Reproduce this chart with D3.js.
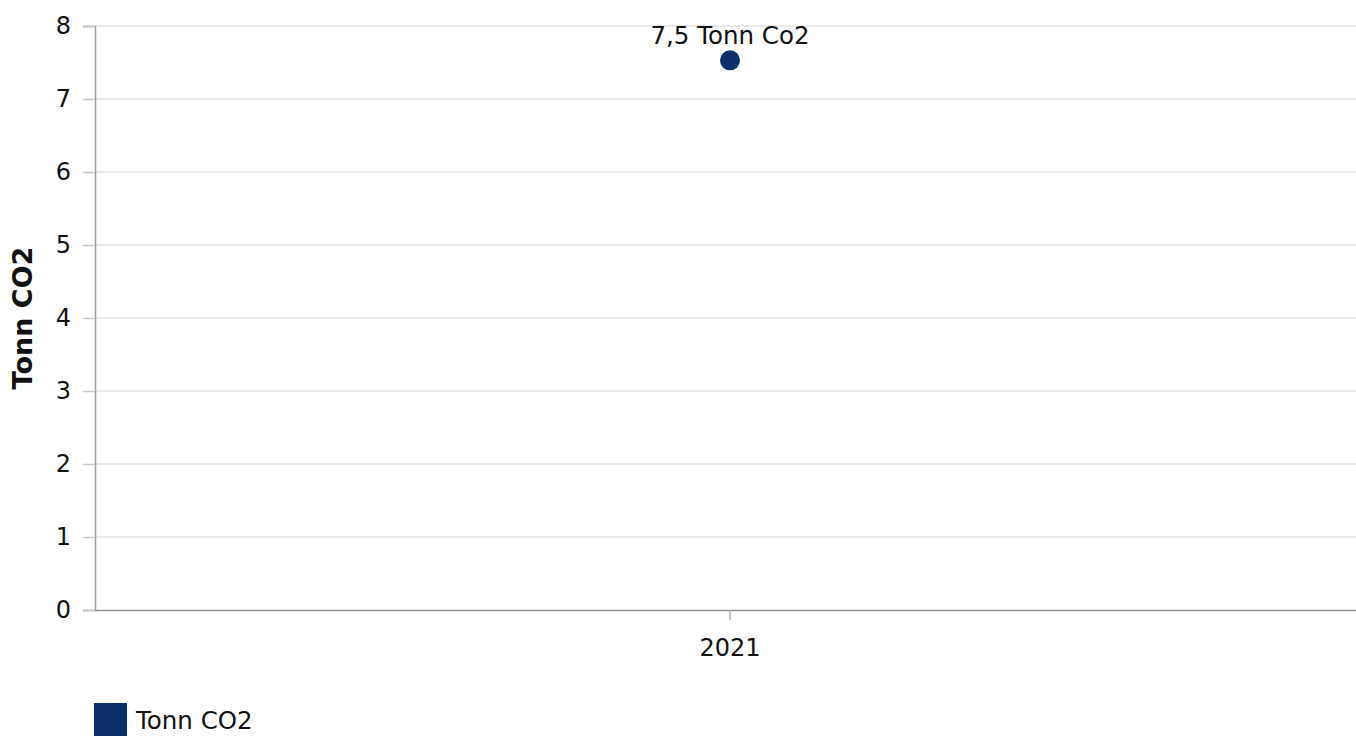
<!DOCTYPE html>
<html>
<head>
<meta charset="utf-8">
<script src="https://cdn.jsdelivr.net/npm/d3@7"></script>
<style>
  body { margin: 0; background: #fff; }
  text { font-family: "DejaVu Sans", Verdana, sans-serif; }
</style>
</head>
<body>
<script>
// chart data
var years = ["2021"];
var co2Values = [7.53];
var pointLabels = ["7,5 Tonn Co2"];
var yTicks = [0, 1, 2, 3, 4, 5, 6, 7, 8];
var seriesName = "Tonn CO2";
var yTitle = "Tonn CO2";

var W = 1356, H = 736;
var margin = {top: 26, right: -9, bottom: 126, left: 95};
var width = W - margin.left - margin.right, height = H - margin.top - margin.bottom;
var navy = "#0b2f6b";

var svg = d3.select("body").append("svg")
    .attr("width", W)
    .attr("height", H);

var g = svg.append("g")
    .attr("transform", "translate(" + margin.left + "," + margin.top + ")");

var xScale = d3.scaleBand().domain(years).range([0, width]);
var yScale = d3.scaleLinear().domain([0, 8]).range([height, 0]);

// gridlines
g.selectAll(".grid").data(yTicks.filter(function(d) { return d > 0; }))
  .enter().append("line")
    .attr("x1", 0).attr("x2", width)
    .attr("y1", function(d) { return yScale(d); })
    .attr("y2", function(d) { return yScale(d); })
    .attr("stroke", "#e3e3e3")
    .attr("stroke-width", 1.5);

// y axis
var yAxis = g.append("g")
    .call(d3.axisLeft(yScale).tickValues(yTicks).tickSize(12).tickPadding(12));
yAxis.select(".domain").attr("stroke", "#a0a0a0").attr("stroke-width", 1.5);
yAxis.selectAll(".tick line").attr("stroke", "#c8c8c8").attr("stroke-width", 1.5);
yAxis.selectAll(".tick text").attr("font-size", "24px").attr("fill", "#111")
    .attr("font-family", "DejaVu Sans, sans-serif");

// x axis
var xAxis = g.append("g")
    .attr("transform", "translate(0," + height + ")")
    .call(d3.axisBottom(xScale).tickSize(10).tickPadding(19).tickSizeOuter(0));
xAxis.select(".domain").attr("stroke", "#909090").attr("stroke-width", 1.5);
xAxis.selectAll(".tick line").attr("stroke", "#b0b0b0").attr("stroke-width", 1.5);
xAxis.selectAll(".tick text").attr("font-size", "24px").attr("fill", "#111")
    .attr("font-family", "DejaVu Sans, sans-serif");

// points
var cx = function(d, i) { return xScale(years[i]) + xScale.bandwidth() / 2; };
g.selectAll(".dot").data(co2Values)
  .enter().append("circle")
    .attr("cx", cx)
    .attr("cy", function(d) { return yScale(d); })
    .attr("r", 10)
    .attr("fill", navy);

g.selectAll(".lbl").data(co2Values)
  .enter().append("text")
    .attr("x", cx)
    .attr("y", function(d) { return yScale(d) - 16; })
    .attr("text-anchor", "middle")
    .attr("font-size", "24.5px")
    .attr("fill", "#111")
    .text(function(d, i) { return pointLabels[i]; });

// y title
svg.append("text")
    .attr("transform", "translate(32," + (margin.top + height / 2) + ") rotate(-90)")
    .attr("text-anchor", "middle")
    .attr("font-size", "27px")
    .attr("font-weight", "bold")
    .attr("fill", "#111")
    .text(yTitle);

// legend
svg.append("rect")
    .attr("x", 94).attr("y", 703)
    .attr("width", 33).attr("height", 33)
    .attr("fill", navy);
svg.append("text")
    .attr("x", 136).attr("y", 729)
    .attr("font-size", "24.5px")
    .attr("fill", "#111")
    .text(seriesName);
</script>
</body>
</html>
